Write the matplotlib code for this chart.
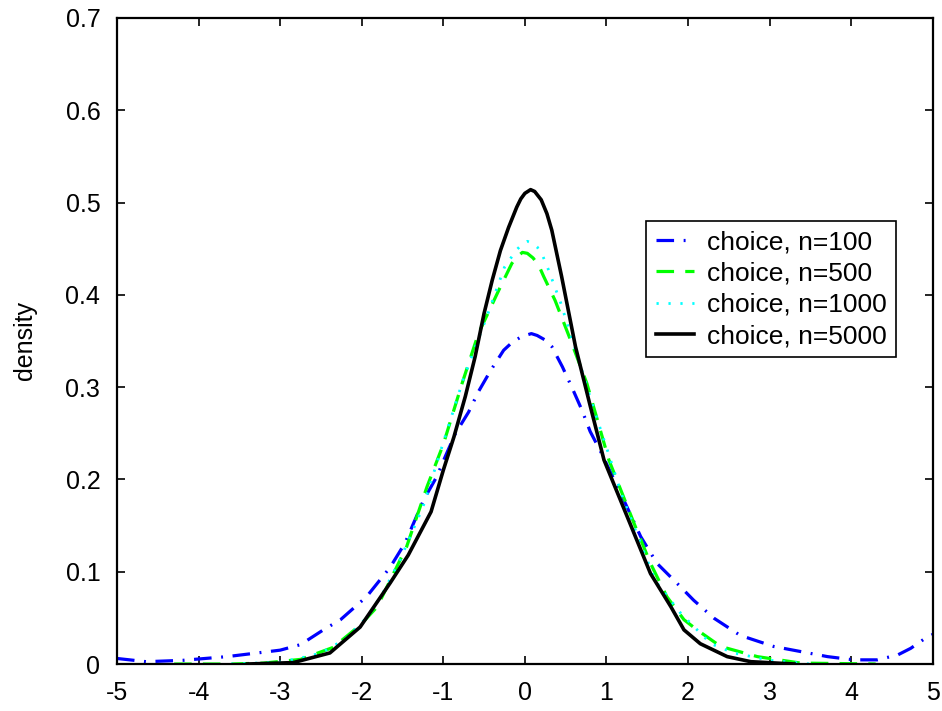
import matplotlib
matplotlib.use("Agg")
import matplotlib.pyplot as plt

plt.rcParams["font.family"] = ["Liberation Sans", "DejaVu Sans"]
plt.rcParams["axes.unicode_minus"] = False

# kernel density estimates of the "choice" statistic, read at irregular x
x100 = [-5.0, -4.64, -4.19, -3.65, -3.0, -2.75, -2.47, -2.26, -1.94, -1.65, -1.47,
        -1.24, -1.08, -0.975, -0.85, -0.69, -0.57, -0.42, -0.26, -0.15, -0.035, 0.08,
        0.15, 0.25, 0.33, 0.46, 0.58, 0.70, 0.80, 0.93, 1.2, 1.42, 1.62, 1.87, 2.07,
        2.32, 2.64, 3.05, 3.38, 3.71, 4.03, 4.32, 4.57, 4.73, 4.91, 5.0]
d100 = [0.006, 0.0025, 0.004, 0.008, 0.015, 0.021, 0.037, 0.048, 0.073, 0.105, 0.131,
        0.178, 0.203, 0.225, 0.25, 0.273, 0.295, 0.318, 0.34, 0.349, 0.355, 0.358,
        0.356, 0.351, 0.344, 0.322, 0.299, 0.275, 0.252, 0.23, 0.18, 0.138, 0.109, 0.087, 0.069,
        0.0495, 0.031, 0.019, 0.0135, 0.008, 0.0045, 0.0045, 0.0098, 0.017, 0.028, 0.032]

x500 = [-4.3, -3.6, -3.2, -2.75, -2.35, -2.02, -1.81, -1.45, -1.2, -1.0, -0.77, -0.57,
        -0.32, -0.16, -0.1, -0.03, 0.03, 0.1, 0.17, 0.23, 0.37, 0.56, 0.76, 1.03, 1.34,
        1.54, 1.74, 1.95, 2.11, 2.4, 2.85, 3.38, 4.3]
d500 = [0.0, 0.0, 0.001, 0.005, 0.018, 0.042, 0.062, 0.127, 0.192, 0.238, 0.304, 0.358,
        0.405, 0.434, 0.441, 0.446, 0.445, 0.44, 0.432, 0.42, 0.394, 0.351, 0.304, 0.221, 0.152,
        0.109, 0.073, 0.048, 0.037, 0.019, 0.008, 0.001, 0.0]

x1000 = [-3.6, -3.0, -2.67, -2.5, -2.2, -1.93, -1.74, -1.53, -1.25, -1.0, -0.75, -0.46,
         -0.25, -0.1, -0.03, 0.03, 0.1, 0.15, 0.22, 0.29, 0.44, 0.66, 0.85, 1.01, 1.2, 1.4,
         1.6, 1.91, 2.28, 2.56, 3.0, 3.5]
d1000 = [0.0, 0.002, 0.008, 0.012, 0.027, 0.051, 0.077, 0.113, 0.17, 0.24, 0.31, 0.378,
         0.43, 0.449, 0.455, 0.458, 0.456, 0.452, 0.442, 0.427, 0.391, 0.329, 0.275, 0.232, 0.18, 0.135,
         0.09, 0.055, 0.022, 0.012, 0.004, 0.0]

x5000 = [-3.4, -2.84, -2.39, -2.02, -1.65, -1.43, -1.15, -1.0, -0.87, -0.73, -0.61, -0.5,
         -0.4, -0.3, -0.2, -0.1, -0.05, 0.0, 0.07, 0.12, 0.2, 0.27, 0.33, 0.45, 0.62, 0.8,
         0.97, 1.29, 1.54, 1.79, 1.95, 2.15, 2.48, 2.77, 3.3]
d5000 = [0.0, 0.0015, 0.012, 0.04, 0.088, 0.118, 0.165, 0.21, 0.246, 0.29, 0.333, 0.38,
         0.416, 0.448, 0.473, 0.495, 0.504, 0.51, 0.514, 0.512, 0.503, 0.488, 0.47, 0.42, 0.344, 0.28,
         0.221, 0.152, 0.098, 0.062, 0.037, 0.022, 0.008, 0.0025, 0.0]

fig = plt.figure(figsize=(9.42, 7.11), dpi=100)
ax = fig.add_axes([0.1242, 0.0661, 0.866, 0.9086])

ax.plot(x100, d100, color="#0000ff", linewidth=2.3, linestyle=(0, (5.5, 3, 0.6, 3)),
        label="choice, n=100")
ax.plot(x500, d500, color="#00ff00", linewidth=2.3, linestyle=(0, (5.5, 3.5)),
        label="choice, n=500")
ax.plot(x1000, d1000, color="#00ffff", linewidth=2.0, linestyle=(0, (0.8, 3.5)),
        label="choice, n=1000")
ax.plot(x5000, d5000, color="black", linewidth=2.6, label="choice, n=5000")

ax.set_xlim(-5, 5)
ax.set_ylim(0, 0.7)
ax.set_xticks(range(-5, 6))
ax.set_yticks([0, 0.1, 0.2, 0.3, 0.4, 0.5, 0.6, 0.7])
ax.set_yticklabels(["0", "0.1", "0.2", "0.3", "0.4", "0.5", "0.6", "0.7"])
ax.tick_params(direction="in", length=6, width=1.2, top=True, right=True,
               labelsize=18, pad=12)
for s in ax.spines.values():
    s.set_linewidth(1.6)
ax.set_ylabel("density", fontsize=18)
ax.yaxis.set_label_coords(-0.098, 0.5)

leg = ax.legend(loc="upper left", bbox_to_anchor=(0.649, 0.686), borderaxespad=0,
                fontsize=19, fancybox=False, edgecolor="black", framealpha=1,
                handlelength=1.45, handletextpad=0.5, labelspacing=0.28,
                borderpad=0.35)
leg.get_frame().set_linewidth(1.2)

fig.savefig("out.png", dpi=100)
